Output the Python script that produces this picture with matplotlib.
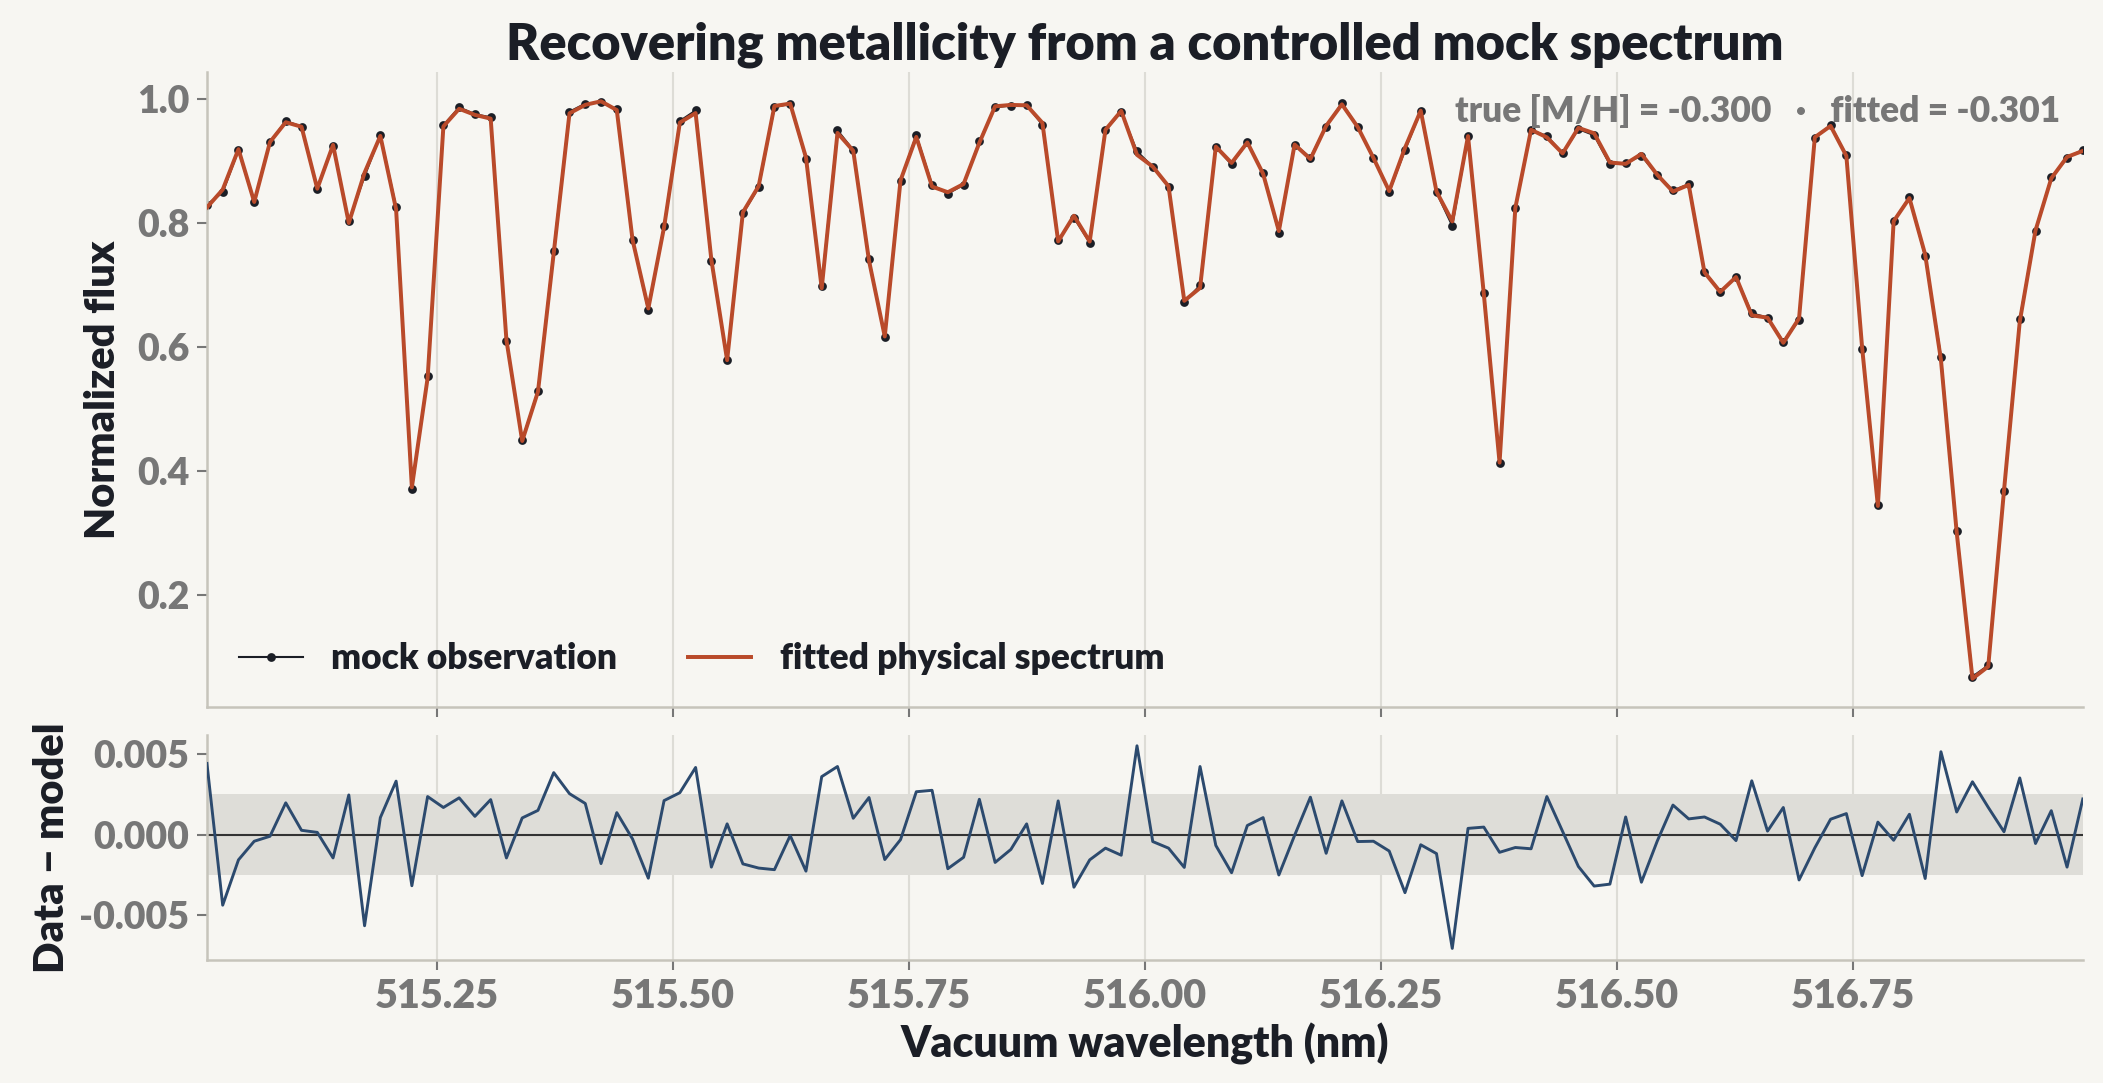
import numpy as np
import matplotlib as mpl
mpl.use('Agg')
import matplotlib.pyplot as plt

# wavelength grid (nm), 120 pixels
wave_start, wave_end, n_pix = 515.0065, 516.993, 120

flux_obs = [
    0.830, 0.850, 0.918, 0.834, 0.931, 0.965, 0.956, 0.856, 0.925, 0.803,
    0.876, 0.942, 0.826, 0.371, 0.553, 0.958, 0.987, 0.976, 0.971, 0.610,
    0.450, 0.530, 0.756, 0.980, 0.993, 0.995, 0.984, 0.773, 0.660, 0.796,
    0.965, 0.982, 0.739, 0.580, 0.816, 0.858, 0.987, 0.993, 0.904, 0.699,
    0.950, 0.918, 0.742, 0.616, 0.869, 0.942, 0.862, 0.848, 0.862, 0.932,
    0.987, 0.990, 0.991, 0.959, 0.773, 0.809, 0.769, 0.950, 0.980, 0.916,
    0.891, 0.859, 0.673, 0.700, 0.923, 0.895, 0.931, 0.881, 0.785, 0.927,
    0.906, 0.956, 0.994, 0.955, 0.905, 0.851, 0.918, 0.981, 0.850, 0.796,
    0.941, 0.687, 0.413, 0.824, 0.950, 0.941, 0.913, 0.952, 0.942, 0.895,
    0.897, 0.909, 0.878, 0.853, 0.863, 0.722, 0.690, 0.713, 0.655, 0.648,
    0.609, 0.644, 0.938, 0.958, 0.910, 0.597, 0.345, 0.803, 0.842, 0.747,
    0.585, 0.303, 0.069, 0.087, 0.369, 0.645, 0.788, 0.874, 0.905, 0.919,
]

residual = [
    0.00443, -0.00439, -0.00157, -0.00041, -0.00010, 0.00198, 0.00027, 0.00014, -0.00145, 0.00247,
    -0.00567, 0.00106, 0.00333, -0.00318, 0.00237, 0.00169, 0.00229, 0.00114, 0.00218, -0.00145,
    0.00104, 0.00151, 0.00386, 0.00255, 0.00194, -0.00180, 0.00137, -0.00027, -0.00271, 0.00212,
    0.00261, 0.00418, -0.00202, 0.00067, -0.00182, -0.00208, -0.00218, -0.00006, -0.00227, 0.00361,
    0.00424, 0.00102, 0.00231, -0.00155, -0.00031, 0.00267, 0.00276, -0.00212, -0.00141, 0.00220,
    -0.00173, -0.00092, 0.00067, -0.00304, 0.00210, -0.00327, -0.00157, -0.00084, -0.00128, 0.00553,
    -0.00043, -0.00084, -0.00204, 0.00424, -0.00067, -0.00237, 0.00057, 0.00106, -0.00251, -0.00004,
    0.00233, -0.00116, 0.00210, -0.00043, -0.00041, -0.00102, -0.00361, -0.00063, -0.00118, -0.00708,
    0.00039, 0.00047, -0.00110, -0.00080, -0.00088, 0.00237, 0.00020, -0.00198, -0.00320, -0.00308,
    0.00110, -0.00296, -0.00041, 0.00184, 0.00098, 0.00110, 0.00065, -0.00037, 0.00335, 0.00022,
    0.00169, -0.00282, -0.00082, 0.00096, 0.00131, -0.00255, 0.00078, -0.00035, 0.00127, -0.00273,
    0.00516, 0.00141, 0.00329, 0.00170, 0.00018, 0.00353, -0.00055, 0.00149, -0.00202, 0.00222,
]

noise_sigma = 0.0025
true_mh, fit_mh = -0.300, -0.301

wave = np.linspace(wave_start, wave_end, n_pix)
flux_obs = np.array(flux_obs)
residual = np.array(residual)
flux_model = flux_obs - residual

BG = '#F7F6F2'
DARK = '#1B1E26'
GRAY = '#777777'
SPINE = '#C6C4BB'
ORANGE = '#B94A2A'
NAVY = '#2C4A6E'
W = 'heavy'

plt.rcParams['font.family'] = ['Lato', 'DejaVu Sans']
plt.rcParams['font.weight'] = W

fig = plt.figure(figsize=(14.02, 7.22), dpi=150, facecolor=BG)
ax = fig.add_axes([0.0984, 0.3472, 0.892, 0.5863], facecolor=BG)
axr = fig.add_axes([0.0984, 0.1136, 0.892, 0.2077], facecolor=BG, sharex=ax)

ax.plot(wave, flux_obs, color=DARK, lw=1.0, marker='o', ms=3.2,
        label='mock observation', zorder=2)
ax.plot(wave, flux_model, color=ORANGE, lw=1.9,
        label='fitted physical spectrum', zorder=3)
ax.set_xlim(wave[0], wave[-1])
ax.set_ylim(0.02, 1.044)
ax.set_ylabel('Normalized flux', fontsize=20, color=DARK, fontweight=W, labelpad=7)
ax.set_title('Recovering metallicity from a controlled mock spectrum',
             fontsize=24.3, color=DARK, fontweight=W, pad=6)
ax.text(0.988, 0.965, f'true [M/H] = {true_mh:.3f}   \u00b7   fitted = {fit_mh:.3f}',
        transform=ax.transAxes, ha='right', va='top', fontsize=17,
        color=GRAY, fontweight=W)
leg = ax.legend(loc='lower left', ncol=2, frameon=False, fontsize=17,
                handlelength=1.8, columnspacing=2.0)
for t in leg.get_texts():
    t.set_color(DARK)
plt.setp(ax.get_xticklabels(), visible=False)

axr.fill_between(wave, -noise_sigma, noise_sigma, color='#DEDDD8', lw=0, zorder=1)
axr.axhline(0, color='#333333', lw=1.0, zorder=2)
axr.plot(wave, residual, color=NAVY, lw=1.4, zorder=3)
axr.set_ylim(-0.0078, 0.0062)
axr.set_yticks([-0.005, 0.0, 0.005])
axr.set_ylabel('Data \u2212 model', fontsize=20, color=DARK, fontweight=W)
axr.set_xlabel('Vacuum wavelength (nm)', fontsize=20.5, color=DARK, fontweight=W)
axr.set_xticks([515.25, 515.50, 515.75, 516.00, 516.25, 516.50, 516.75])
axr.xaxis.set_major_formatter(mpl.ticker.FormatStrFormatter('%.2f'))
axr.yaxis.set_major_formatter(mpl.ticker.FormatStrFormatter('%.3f'))

for a in (ax, axr):
    a.grid(axis='x', color='#DDDCD6', lw=1.0, zorder=0)
    a.set_axisbelow(True)
    for s in ('top', 'right'):
        a.spines[s].set_visible(False)
    for s in ('left', 'bottom'):
        a.spines[s].set_color(SPINE)
        a.spines[s].set_linewidth(1.2)
    a.tick_params(colors=GRAY, length=5, width=1.0)
    a.tick_params(axis='y', labelsize=18)
    a.tick_params(axis='x', labelsize=19)
    for lbl in a.get_xticklabels() + a.get_yticklabels():
        lbl.set_fontweight(W)

fig.savefig('out.png', dpi=150, facecolor=BG)
